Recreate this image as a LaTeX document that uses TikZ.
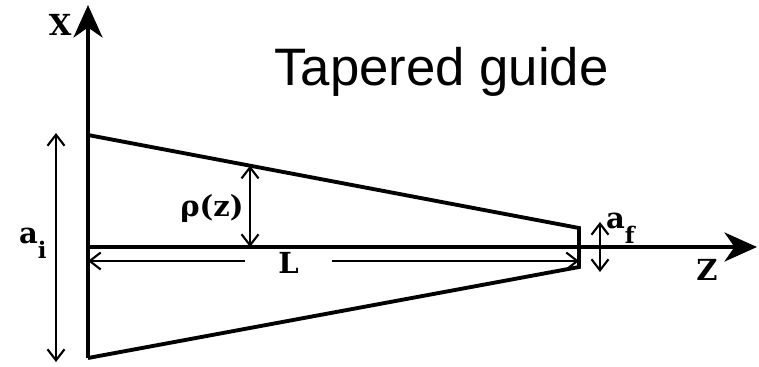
\documentclass[tikz,border=0pt]{standalone}
\usepackage{fontspec}
\newfontfamily\titlefont{Liberation Sans}
\newfontfamily\labfont{DejaVu Serif}
\usetikzlibrary{arrows.meta,calc}
\newcommand{\lowsub}[1]{\raisebox{-0.3cm}{\fontsize{13}{15}\selectfont #1}}
\tikzset{
  wall/.style={line width=2.2pt,line join=miter},
  axisline/.style={line width=2.2pt,-{Stealth[length=6.5mm,width=5.8mm,inset=2mm]}},
  dimline/.style={line width=1.2pt,{Straight Barb[length=2.2mm,width=3.4mm]}-{Straight Barb[length=2.2mm,width=3.4mm]}},
  halfdim/.style={line width=1.2pt,-{Straight Barb[length=2.2mm,width=3.4mm]}},
  lab/.style={font=\labfont\bfseries\fontsize{16.5}{19}\selectfont,inner sep=1pt},
  titlelab/.style={font=\titlefont\fontsize{30}{36}\selectfont,inner sep=0pt}
}
\begin{document}
\begin{tikzpicture}[x=1cm,y=1cm]
  \useasboundingbox (0,0) rectangle (15.18,7.32);

  % axes
  \coordinate (origin) at (1.76,2.38);
  \coordinate (xtop) at (1.76,7.22);
  \coordinate (ztip) at (15.14,2.38);

  % guide outline
  \coordinate (gtl) at (1.76,4.62);
  \coordinate (gtr) at (11.58,2.76);
  \coordinate (gbr) at (11.58,1.98);
  \coordinate (gbl) at (1.76,0.16);
  \draw[wall] (gtl) -- (gtr) -- (gbr) -- (gbl);
  \draw[axisline] (gbl) -- (xtop);
  \draw[axisline] (origin) -- (ztip);

  \node[lab] (xlab) at (1.2,6.82) {X};
  \node[lab] (zlab) at (14.14,1.92) {Z};

  % input width a_i
  \coordinate (aitop) at (1.12,4.66);
  \coordinate (aibot) at (1.12,0.08);
  \draw[dimline] (aitop) -- (aibot);
  \node[lab,anchor=base west] (ailab) at (0.34,2.46) {a\lowsub{i}};

  % local radius rho(z)
  \coordinate (rhotop) at ($(gtl)!0.33!(gtr)$);
  \coordinate (rhobot) at (rhotop |- origin);
  \draw[dimline] (rhotop) -- (rhobot);
  \node[lab] (rholab) at (4.24,3.16) {ρ(z)};

  % length L
  \coordinate (lstart) at (1.76,2.1);
  \coordinate (lend) at (11.58,2.1);
  \node[lab,minimum width=1.74cm] (llab) at (5.77,2.06) {L};
  \draw[halfdim] (llab.west |- lstart) -- (lstart);
  \draw[halfdim] (llab.east |- lend) -- (lend);

  % output width a_f
  \coordinate (aftop) at (12.0,2.88);
  \coordinate (afbot) at (12.0,1.88);
  \draw[dimline] (aftop) -- (afbot);
  \node[lab,anchor=base west] (aflab) at (12.08,2.76) {a\lowsub{f}};

  \node[titlelab,anchor=base] (title) at (8.83,5.62) {Tapered guide};
\end{tikzpicture}
\end{document}
